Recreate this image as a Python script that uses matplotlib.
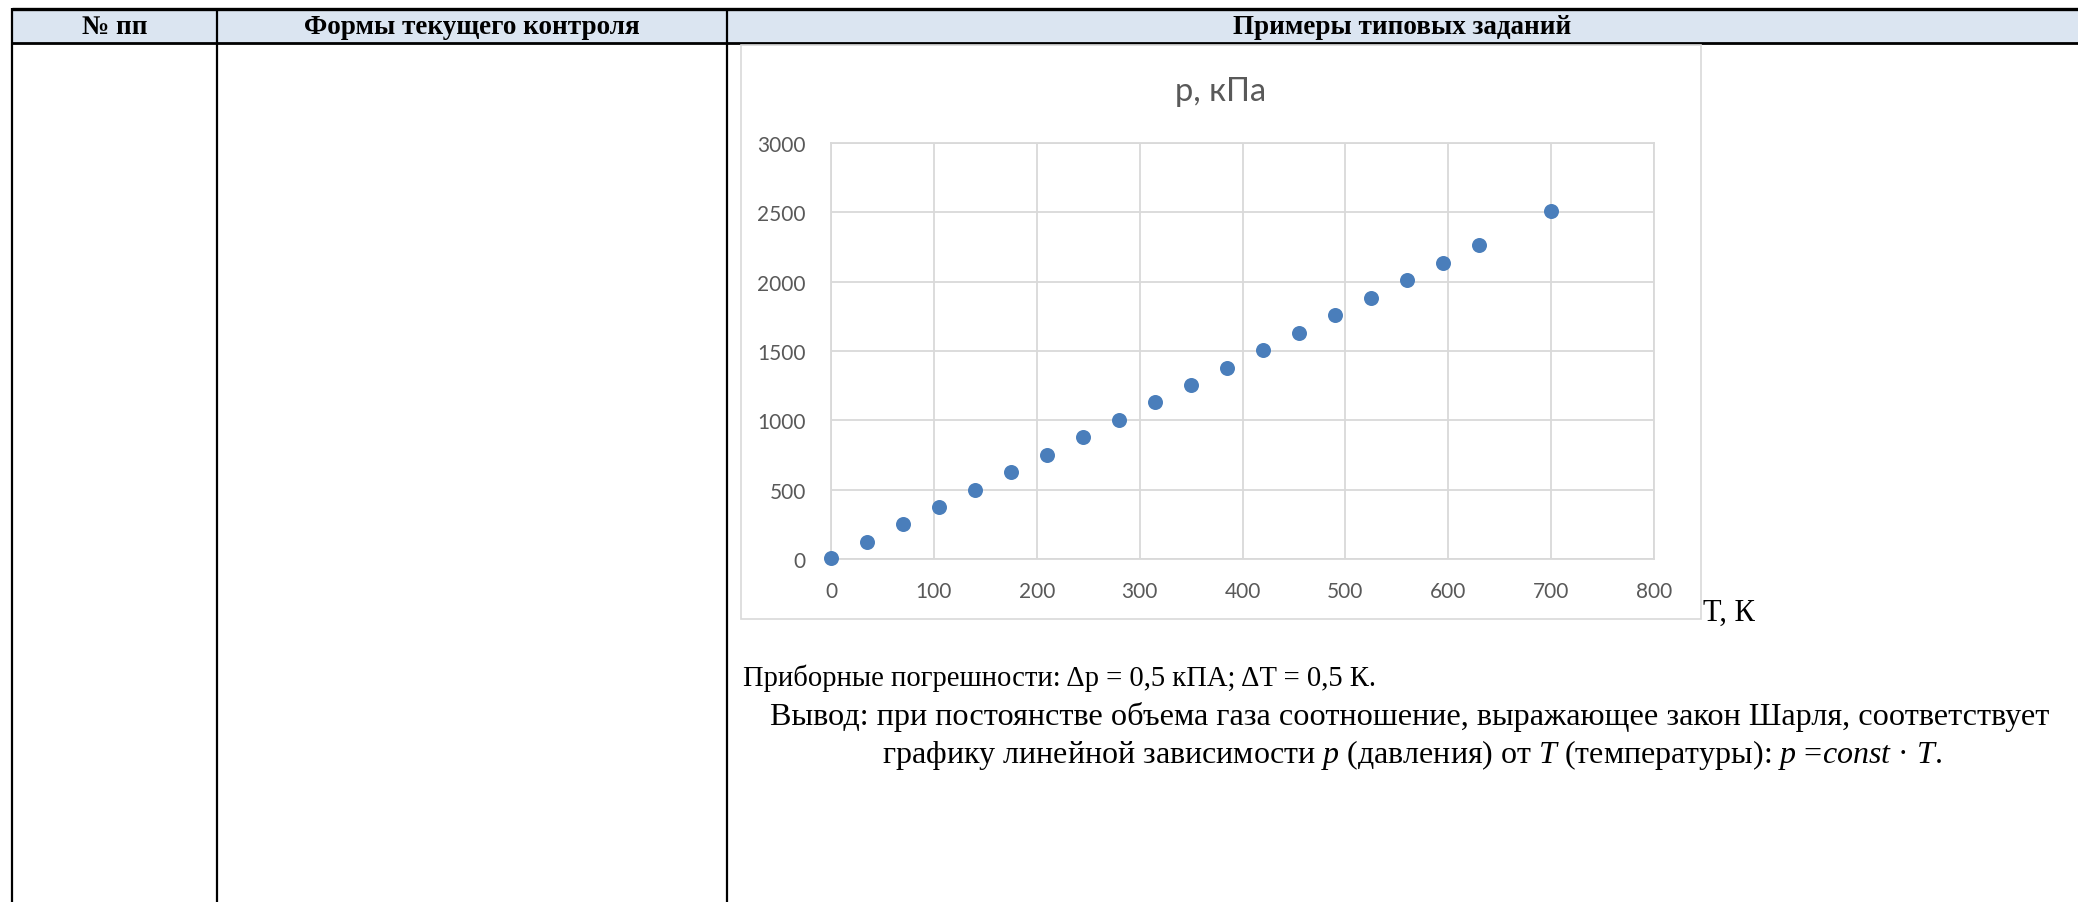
import matplotlib
matplotlib.use('Agg')
import matplotlib.pyplot as plt
from matplotlib.patches import Rectangle

W, H = 2078, 903

# ── Data ──────────────────────────────────────────────────────────────────────
T_K = [0, 35, 70, 105, 140, 175, 210, 245, 280, 315,
       350, 385, 420, 455, 490, 525, 560, 595, 630, 700]
P_KPA = [5, 125, 250, 375, 500, 627, 752, 878, 1003, 1130,
         1255, 1380, 1507, 1633, 1757, 1884, 2010, 2135, 2262, 2512]

X_TICKS = [0, 100, 200, 300, 400, 500, 600, 700, 800]
Y_TICKS = [0, 500, 1000, 1500, 2000, 2500, 3000]

HEADERS = ["№ пп", "Формы текущего контроля", "Примеры типовых заданий"]
CHART_TITLE = "р, кПа"
X_LABEL = "T, К"
NOTE_1 = "Приборные погрешности: Δp = 0,5 кПА; ΔT = 0,5 К."
NOTE_2 = "Вывод: при постоянстве объема газа соотношение, выражающее закон Шарля, соответствует"
NOTE_3 = "графику линейной зависимости $p$ (давления) от $T$ (температуры): $p$ =$const$ · $T$."

SERIF = 'Liberation Serif'
SANS = ['Lato', 'Noto Sans', 'DejaVu Sans']
GRAY_TXT = '#595959'
GRID = '#d9d9d9'
BLUE = '#4a7ebb'

plt.rcParams['mathtext.fontset'] = 'custom'
plt.rcParams['mathtext.rm'] = 'Liberation Serif'
plt.rcParams['mathtext.it'] = 'Liberation Serif:italic'

fig = plt.figure(figsize=(W / 100, H / 100), dpi=100)

# ── Page layer in pixel coordinates ───────────────────────────────────────────
page = fig.add_axes([0, 0, 1, 1])
page.set_xlim(0, W)
page.set_ylim(H, 0)
page.axis('off')

# header band
page.add_patch(Rectangle((12, 10), W - 12, 34, facecolor='#dbe5f1', edgecolor='none'))
page.plot([12, W], [10, 10], color='black', lw=2.4, solid_capstyle='butt')
page.plot([12, W], [44, 44], color='black', lw=2.0, solid_capstyle='butt')
for xc in (12, 217, 727):
    page.plot([xc, xc], [9, H], color='black', lw=1.6, solid_capstyle='butt')

for txt, xc in zip(HEADERS, (115, 472, 1402)):
    page.text(xc, 28, txt, ha='center', va='center', family=SERIF,
              fontweight='bold', fontsize=19.5)

# chart frame
page.add_patch(Rectangle((741, 46), 960, 574, facecolor='white',
                         edgecolor=GRID, lw=1.2, zorder=2))
page.text(1221, 92, CHART_TITLE, ha='center', va='center', family=SANS,
          fontsize=23.5, color=GRAY_TXT, zorder=3)
page.text(1703, 613, X_LABEL, ha='left', va='center', family=SERIF,
          fontsize=22, zorder=3)

# notes below the chart
page.text(743, 678, NOTE_1, ha='left', va='center', family=SERIF, fontsize=20.6)
page.text(1410, 717, NOTE_2, ha='center', va='center', family=SERIF, fontsize=23.2)
page.text(1412, 755, NOTE_3, ha='center', va='center', family=SERIF, fontsize=23)

# ── Scatter chart ─────────────────────────────────────────────────────────────
x0, x1, y0, y1 = 831, 1654, 144, 560
ax = fig.add_axes([x0 / W, (H - y1) / H, (x1 - x0) / W, (y1 - y0) / H])
ax.set_zorder(5)
ax.patch.set_alpha(0)
ax.plot(T_K, P_KPA, linestyle='none', marker='o', markersize=10.8,
        color=BLUE, markeredgewidth=0, clip_on=False, zorder=4)
ax.set_xlim(0, 800)
ax.set_ylim(0, 3000)
ax.set_xticks(X_TICKS)
ax.set_yticks(Y_TICKS)
ax.grid(True, color=GRID, lw=1.3)
ax.set_axisbelow(True)
for s in ax.spines.values():
    s.set_color(GRID)
    s.set_linewidth(1.3)
ax.tick_params(length=0, labelsize=15, labelcolor=GRAY_TXT)
ax.tick_params(axis='x', pad=16)
ax.tick_params(axis='y', pad=18)
for lab in ax.get_xticklabels() + ax.get_yticklabels():
    lab.set_family(SANS)

fig.savefig('out.png', dpi=100)
